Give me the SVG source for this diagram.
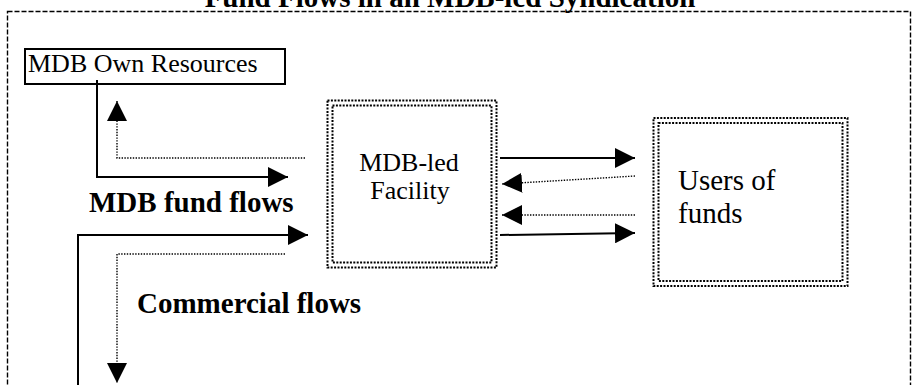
<svg xmlns="http://www.w3.org/2000/svg" width="912" height="385" viewBox="0 0 912 385">
<style>
.t{font-family:"Liberation Serif","Times New Roman",serif;fill:#000}
.b{font-weight:bold;font-size:29px}
.solid{fill:none;stroke:#000;stroke-width:2}
.dot{fill:none;stroke:#000;stroke-width:1.4;stroke-dasharray:1.4 1.4}
.dbox{fill:none;stroke:#000;stroke-width:2;stroke-dasharray:2 1.4}
</style>
<defs>
<marker id="ah" viewBox="0 0 20 20" markerWidth="20" markerHeight="20" refX="20" refY="10" orient="auto" markerUnits="userSpaceOnUse">
<path d="M0,0 L20,10 L0,20 Z" fill="#000"/>
</marker>
</defs>
<rect x="7.5" y="11.5" width="903" height="400" fill="none" stroke="#000" stroke-width="1.4" stroke-dasharray="5 2"/>
<text class="t b" x="450" y="7" text-anchor="middle">Fund Flows in an MDB-led Syndication</text>
<g id="own-resources">
<rect x="25" y="49" width="260" height="35" fill="#fff" stroke="#000" stroke-width="2"/>
<text class="t" x="28" y="72" font-size="26">MDB Own Resources</text>
</g>
<g id="facility">
<rect class="dbox" x="327.5" y="100.5" width="169" height="167"/>
<rect class="dbox" x="332.5" y="105.5" width="159" height="157"/>
<text class="t" x="409" y="171" font-size="26" text-anchor="middle">MDB-led</text>
<text class="t" x="410" y="199" font-size="26" text-anchor="middle">Facility</text>
</g>
<g id="users">
<rect class="dbox" x="653.5" y="118" width="194" height="168"/>
<rect class="dbox" x="658.5" y="123" width="184" height="158"/>
<text class="t" x="678" y="190" font-size="29">Users of</text>
<text class="t" x="678" y="223" font-size="29">funds</text>
</g>
<g id="labels">
<text class="t b" x="89" y="212">MDB fund flows</text>
<text class="t b" x="137" y="313">Commercial flows</text>
</g>
<g id="connectors">
<path class="solid" d="M97,80 V177 H288" marker-end="url(#ah)"/>
<path class="dot" d="M305,158 H117 V101" marker-end="url(#ah)"/>
<path class="solid" d="M78,400 V235 H308" marker-end="url(#ah)"/>
<path class="dot" d="M285,254 H117 V383" marker-end="url(#ah)"/>
<path class="solid" d="M500,158 H635" marker-end="url(#ah)"/>
<path class="dot" d="M635,176 L502,184" marker-end="url(#ah)"/>
<path class="dot" d="M635,215 H502" marker-end="url(#ah)"/>
<path class="solid" d="M500,235 L635,233" marker-end="url(#ah)"/>
</g>
</svg>
